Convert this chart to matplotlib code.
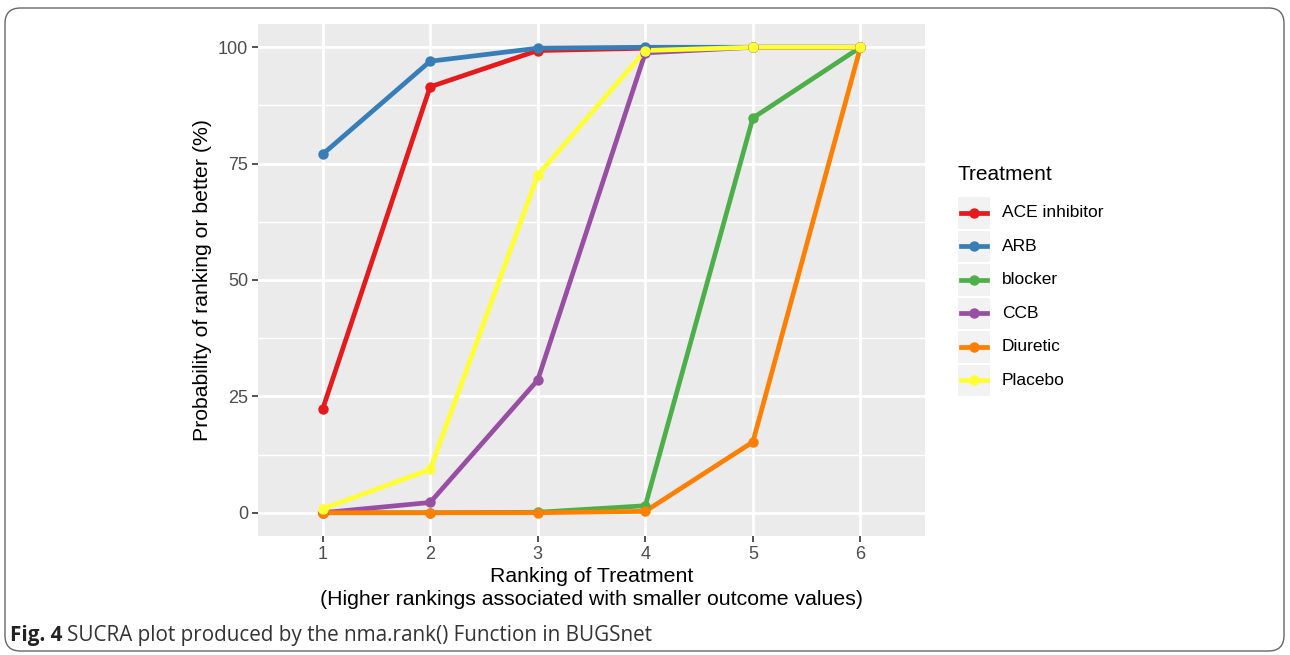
import matplotlib
matplotlib.use("Agg")
import matplotlib.pyplot as plt
from matplotlib.patches import FancyBboxPatch, Rectangle
from matplotlib.lines import Line2D
from matplotlib import font_manager

W, H = 1290, 655
ranks = [1, 2, 3, 4, 5, 6]
treatments = ["ACE inhibitor", "ARB", "blocker", "CCB", "Diuretic", "Placebo"]
ace = [22.2, 91.5, 99.3, 99.8, 100, 100]
arb = [77.0, 97.0, 99.8, 100, 100, 100]
blocker = [0.0, 0.0, 0.1, 1.5, 84.8, 100]
ccb = [0.0, 2.2, 28.5, 98.8, 100, 100]
diuretic = [0.0, 0.0, 0.0, 0.3, 15.2, 100]
placebo = [0.8, 9.3, 72.5, 99.3, 100, 100]
series = [ace, arb, blocker, ccb, diuretic, placebo]
colors = ["#E41A1C", "#377EB8", "#4DAF4A", "#984EA3", "#FF7F00", "#FFFF33"]
yticks = [0, 25, 50, 75, 100]
caption_bold = "Fig. 4"
caption_text = "SUCRA plot produced by the nma.rank() Function in BUGSnet"

avail = {f.name for f in font_manager.fontManager.ttflist}
main_font = "Liberation Sans" if "Liberation Sans" in avail else "DejaVu Sans"
cap_font = "Open Sans" if "Open Sans" in avail else main_font
plt.rcParams["font.family"] = [main_font, "DejaVu Sans"]

fig = plt.figure(figsize=(W / 100, H / 100), dpi=100)
fig.patch.set_facecolor("white")

def fx(px):
    return px / W

def fy(py):
    return 1 - py / H

# panel
L, R, T, B = 258, 925, 24, 536
ax = fig.add_axes([fx(L), fy(B), (R - L) / W, (B - T) / H])
ax.set_facecolor("#EBEBEB")
for s in ax.spines.values():
    s.set_visible(False)
ax.set_xlim(0.4, 6.6)
ax.set_ylim(-5, 105)
for yv in [12.5, 37.5, 62.5, 87.5]:
    ax.axhline(yv, color="white", lw=1.0, zorder=0.5)
for yv in yticks:
    ax.axhline(yv, color="white", lw=2.0, zorder=0.6)
for xv in ranks:
    ax.axvline(xv, color="white", lw=2.0, zorder=0.6)

for ys, c in zip(series, colors):
    ax.plot(ranks, ys, color=c, lw=3.4, zorder=2, solid_capstyle="butt")
for ys, c in zip(series, colors):
    ax.plot(ranks, ys, "o", color=c, ms=7.5, zorder=3, mec="none")

ax.set_xticks(ranks)
ax.set_xticklabels([str(r) for r in ranks])
ax.set_yticks(yticks)
ax.set_yticklabels([str(v) for v in yticks])
ax.tick_params(axis="both", colors="#333333", labelcolor="#4D4D4D", labelsize=13,
               length=4, width=1.2, direction="out", pad=3)
ax.set_xlabel("Ranking of Treatment\n(Higher rankings associated with smaller outcome values)",
              fontsize=15.3, color="black", labelpad=3, linespacing=1.3)
ax.set_ylabel("Probability of ranking or better (%)", fontsize=15.3, color="black", labelpad=4)

# legend (manual, ggplot style)
fig.text(fx(958), fy(175), "Treatment", fontsize=15, ha="left", va="center", color="black")
key_top = 196
key_h = 33.5
for i, (name, c) in enumerate(zip(treatments, colors)):
    y0 = key_top + i * key_h
    fig.patches.append(Rectangle((fx(958), fy(y0 + key_h - 1)), 32 / W, (key_h - 2) / H,
                                 transform=fig.transFigure, facecolor="#F2F2F2",
                                 edgecolor="none"))
    yc = y0 + key_h / 2
    fig.lines.append(Line2D([fx(961), fx(987)], [fy(yc), fy(yc)], transform=fig.transFigure,
                            color=c, lw=3.4))
    fig.lines.append(Line2D([fx(974)], [fy(yc)], transform=fig.transFigure, color=c,
                            marker="o", ms=7.5, mec="none"))
    fig.text(fx(1002), fy(yc), name, fontsize=12.5, ha="left", va="center", color="black")

# outer rounded border
fig.patches.append(FancyBboxPatch((fx(5), fy(651)), (1279) / W, (643) / H,
                                  boxstyle="round,pad=0,rounding_size=0.012",
                                  transform=fig.transFigure, facecolor="none",
                                  edgecolor="#666666", lw=1.0, mutation_aspect=W / H))

# caption, sized so it ends near x=650 like the reference
csize = 13.5
t1 = fig.text(fx(10), fy(636), caption_bold, fontsize=csize, fontweight="bold",
              family=[cap_font, "DejaVu Sans"], ha="left", va="center", color="#222222")
t2 = fig.text(0, fy(636), caption_text, fontsize=csize,
              family=[cap_font, "DejaVu Sans"], ha="left", va="center", color="#333333")
for _ in range(3):
    fig.canvas.draw()
    b1 = t1.get_window_extent()
    t2.set_x((b1.x1 + 0.3 * csize) / W)
    fig.canvas.draw()
    b2 = t2.get_window_extent()
    scale = (650 - 10) / (b2.x1 - 10)
    csize *= scale
    t1.set_fontsize(csize)
    t2.set_fontsize(csize)
fig.canvas.draw()
b1 = t1.get_window_extent()
t2.set_x((b1.x1 + 0.3 * csize) / W)

fig.savefig("out.png", dpi=100, facecolor="white")
